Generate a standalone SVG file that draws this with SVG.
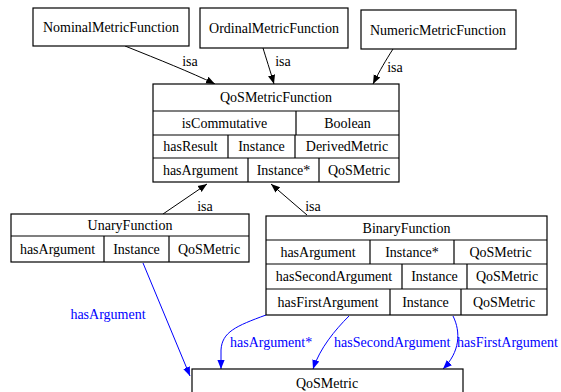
<svg xmlns="http://www.w3.org/2000/svg" width="561" height="392" viewBox="0 0 561 392" font-family="Liberation Serif, DejaVu Serif, serif">
<style>
text{font-size:14px;fill:#000;text-anchor:middle}
.box{fill:#fff;stroke:#000;stroke-width:1.2}
.ln{stroke:#000;stroke-width:1.2}
.e{fill:none;stroke:#000;stroke-width:1}
.b{fill:none;stroke:#0000ff;stroke-width:1}
text.bl{fill:#0000ff}
text.st{text-anchor:start}
</style>
<defs>
<marker id="ak" viewBox="0 0 10 10" refX="10" refY="5" markerWidth="9" markerHeight="9" markerUnits="userSpaceOnUse" orient="auto"><path d="M0,1 L10,5 L0,9 z" fill="#000"/></marker>
<marker id="ab" viewBox="0 0 10 10" refX="10" refY="5" markerWidth="9" markerHeight="9" markerUnits="userSpaceOnUse" orient="auto"><path d="M0,1 L10,5 L0,9 z" fill="#0000ff"/></marker>
</defs>
<rect width="561" height="392" fill="#fff"/>
<g id="connectors">
<path class="e" d="M125,46 C160,60 190,72 215,84" marker-end="url(#ak)"/>
<text x="190" y="66">isa</text>
<path class="e" d="M263,48 C266,58 270,70 274,84" marker-end="url(#ak)"/>
<text x="283" y="66">isa</text>
<path class="e" d="M393,49 C386,60 380,70 373,84" marker-end="url(#ak)"/>
<text x="395" y="72">isa</text>
<path class="e" d="M163,214 L207,184" marker-end="url(#ak)"/>
<text x="205" y="211">isa</text>
<path class="e" d="M307,215 L271,184" marker-end="url(#ak)"/>
<text x="313" y="211">isa</text>
<path class="b" d="M143,263 L190,376" marker-end="url(#ab)"/>
<text class="bl" x="108" y="319">hasArgument</text>
<path class="b" d="M266,315 C236,326 222,332 221,350 L221,369" marker-end="url(#ab)"/>
<text class="bl st" x="230" y="347">hasArgument*</text>
<path class="b" d="M349,316 C335,330 320,348 313,369" marker-end="url(#ab)"/>
<text class="bl st" x="334" y="347">hasSecondArgument</text>
<path class="b" d="M453,316 C461,332 460,352 443,369" marker-end="url(#ab)"/>
<text class="bl st" x="457" y="347">hasFirstArgument</text>
</g>
<g id="NominalMetricFunction">
<rect class="box" x="33" y="8" width="156" height="38"/>
<text x="111" y="32">NominalMetricFunction</text>
</g>
<g id="OrdinalMetricFunction">
<rect class="box" x="200" y="8" width="148" height="40"/>
<text x="274" y="33">OrdinalMetricFunction</text>
</g>
<g id="NumericMetricFunction">
<rect class="box" x="361" y="10" width="155" height="39"/>
<text x="438" y="35">NumericMetricFunction</text>
</g>
<g id="QoSMetricFunction">
<rect class="box" x="153" y="84" width="246" height="98"/>
<path class="ln" d="M153,111 H399 M153,135 H399 M153,158 H399 M296,111 V135 M228,135 V158 M295,135 V158 M248,158 V182 M319,158 V182"/>
<text x="276" y="102">QoSMetricFunction</text>
<text x="224.5" y="128">isCommutative</text>
<text x="347.5" y="128">Boolean</text>
<text x="190.5" y="151">hasResult</text>
<text x="261.5" y="151">Instance</text>
<text x="347" y="151">DerivedMetric</text>
<text x="200.5" y="175">hasArgument</text>
<text x="283.5" y="175">Instance*</text>
<text x="359" y="175">QoSMetric</text>
</g>
<g id="UnaryFunction">
<rect class="box" x="11" y="214" width="238" height="48"/>
<path class="ln" d="M11,236 H249 M104,236 V262 M169,236 V262"/>
<text x="130" y="230">UnaryFunction</text>
<text x="57.5" y="254">hasArgument</text>
<text x="136.5" y="254">Instance</text>
<text x="209" y="254">QoSMetric</text>
</g>
<g id="BinaryFunction">
<rect class="box" x="266" y="216" width="281" height="99"/>
<path class="ln" d="M266,240 H547 M266,264 H547 M266,289 H547 M370,240 V264 M454,240 V264 M402,264 V289 M467,264 V289 M390,289 V315 M461,289 V315"/>
<text x="406.5" y="233">BinaryFunction</text>
<text x="318" y="257">hasArgument</text>
<text x="412" y="257">Instance*</text>
<text x="500.5" y="257">QoSMetric</text>
<text x="334" y="281">hasSecondArgument</text>
<text x="434.5" y="281">Instance</text>
<text x="507" y="281">QoSMetric</text>
<text x="328" y="307">hasFirstArgument</text>
<text x="425.5" y="307">Instance</text>
<text x="504" y="307">QoSMetric</text>
</g>
<g id="QoSMetric">
<rect class="box" x="192" y="369" width="271" height="40"/>
<text x="327" y="388">QoSMetric</text>
</g>
</svg>
